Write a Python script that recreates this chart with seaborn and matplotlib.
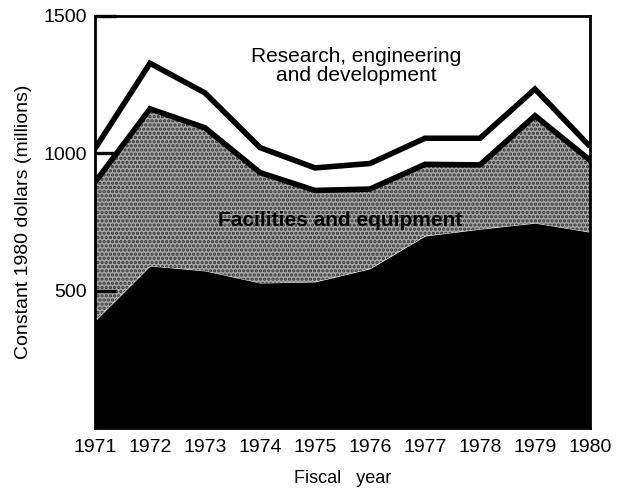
import numpy as np
import pandas as pd
import matplotlib
matplotlib.use("Agg")
import matplotlib.pyplot as plt
import seaborn as sns

# Fiscal years and budget components (constant 1980 dollars, millions)
years = [1971, 1972, 1973, 1974, 1975, 1976, 1977, 1978, 1979, 1980]
base_black = [390, 590, 572, 528, 532, 580, 699, 724, 746, 713]
facilities = [505, 572, 521, 402, 333, 290, 261, 234, 391, 262]
research = [122, 166, 127, 91, 82, 93, 95, 97, 97, 50]
y_ticks = [500, 1000, 1500]
x_labels = [str(y) for y in years]

sns.set_style("white")
plt.rcParams["font.family"] = ["Liberation Sans", "DejaVu Sans"]
plt.rcParams["hatch.linewidth"] = 1.6
for key in ["text.color", "axes.labelcolor", "xtick.color", "ytick.color"]:
    plt.rcParams[key] = "black"

df = pd.DataFrame({"year": years, "base": base_black,
                   "facilities": facilities, "research": research})
df["base_top"] = df["base"]
df["fac_top"] = df["base_top"] + df["facilities"]
df["total"] = df["fac_top"] + df["research"]

fig = plt.figure(figsize=(6.18, 4.92), dpi=100)
ax = fig.add_axes([0.1537, 0.130, 0.801, 0.8375])
ax.set_axisbelow(False)

ax.fill_between(df["year"], 0, df["base_top"], color="black", lw=0, zorder=1)
ax.fill_between(df["year"], df["base_top"], df["fac_top"], facecolor="#a8a8a8",
                hatch="....", edgecolor="#333333", lw=0, zorder=1)
ax.fill_between(df["year"], df["fac_top"], df["total"], color="white", lw=0, zorder=1)

for col in ["fac_top", "total"]:
    sns.lineplot(data=df, x="year", y=col, color="black", lw=4.0, ax=ax,
                 zorder=3, solid_joinstyle="miter", solid_capstyle="butt")

ax.text(1975.75, 1318, "Research, engineering\nand development",
        ha="center", va="center", fontsize=15, linespacing=1.0, zorder=4)
ax.text(1975.45, 757, "Facilities and equipment", ha="center", va="center",
        fontsize=15, fontweight="bold", color="black", zorder=4)

ax.set_xlim(1971, 1980)
ax.set_ylim(0, 1500)
ax.set_xticks(years)
ax.set_xticklabels(x_labels)
ax.set_yticks(y_ticks)
ax.tick_params(axis="x", bottom=False, length=0, pad=8, labelsize=14)
ax.tick_params(axis="y", left=True, direction="in", length=15, width=2.4, pad=6,
               labelsize=14, color="black")

ax.set_xlabel("Fiscal   year", fontsize=13, labelpad=10)
ax.set_ylabel("Constant 1980 dollars (millions)", fontsize=14, labelpad=8)

for s in ax.spines.values():
    s.set_visible(True)
    s.set_color("black")
    s.set_linewidth(2.0)
    s.set_zorder(5)

fig.savefig("out.png", dpi=100)
